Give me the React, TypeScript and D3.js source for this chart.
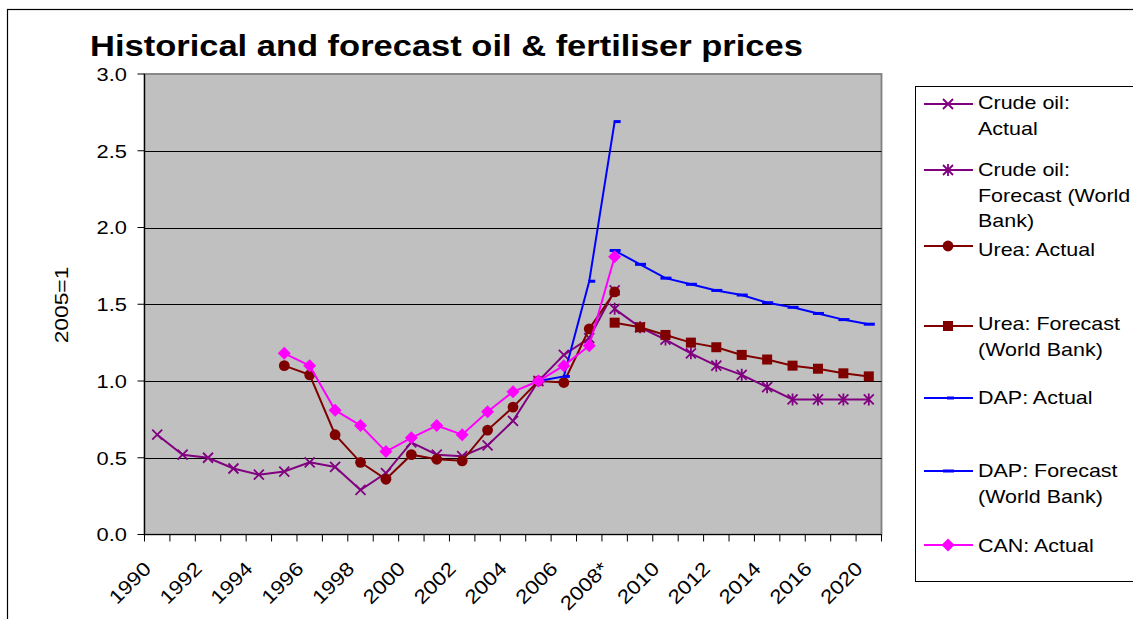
import * as d3 from "d3";

const categories = [
  "1990", "1991", "1992", "1993", "1994", "1995", "1996", "1997", "1998", "1999",
  "2000", "2001", "2002", "2003", "2004", "2005", "2006", "2007", "2008*", "2009",
  "2010", "2011", "2012", "2013", "2014", "2015", "2016", "2018", "2020",
];
// only every other category gets a label
const shownLabels = categories.filter((_, i) => i % 2 === 0);

const yTicks = [0, 0.5, 1, 1.5, 2, 2.5, 3];

const N = null;
const crudeActual = [0.65, 0.52, 0.5, 0.43, 0.39, 0.41, 0.47, 0.44, 0.29, 0.4, 0.6, 0.52, 0.51, 0.58, 0.74, 1.0, 1.17, 1.28, 1.59, N, N, N, N, N, N, N, N, N, N];
const crudeForecast = [N, N, N, N, N, N, N, N, N, N, N, N, N, N, N, N, N, N, 1.47, 1.35, 1.27, 1.18, 1.1, 1.04, 0.96, 0.88, 0.88, 0.88, 0.88];
const ureaActual = [N, N, N, N, N, 1.1, 1.04, 0.65, 0.47, 0.36, 0.52, 0.49, 0.48, 0.68, 0.83, 1.0, 0.99, 1.34, 1.58, N, N, N, N, N, N, N, N, N, N];
const ureaForecast = [N, N, N, N, N, N, N, N, N, N, N, N, N, N, N, N, N, N, 1.38, 1.35, 1.3, 1.25, 1.22, 1.17, 1.14, 1.1, 1.08, 1.05, 1.03];
const dapActual = [N, N, N, N, N, N, N, N, N, N, N, N, N, N, N, 1.0, 1.03, 1.65, 2.69, N, N, N, N, N, N, N, N, N, N];
const dapForecast = [N, N, N, N, N, N, N, N, N, N, N, N, N, N, N, N, N, N, 1.85, 1.76, 1.67, 1.63, 1.59, 1.56, 1.51, 1.48, 1.44, 1.4, 1.37];
const canActual = [N, N, N, N, N, 1.18, 1.1, 0.81, 0.71, 0.54, 0.63, 0.71, 0.65, 0.8, 0.93, 1.0, 1.1, 1.23, 1.81, N, N, N, N, N, N, N, N, N, N];

const series = [
  { label: ["Crude oil:", "Actual"], values: crudeActual, color: "#800080", marker: "x", lineY: 104 },
  { label: ["Crude oil:", "Forecast (World", "Bank)"], values: crudeForecast, color: "#800080", marker: "star", lineY: 170 },
  { label: ["Urea: Actual"], values: ureaActual, color: "#800000", marker: "circle", lineY: 246 },
  { label: ["Urea: Forecast", "(World Bank)"], values: ureaForecast, color: "#800000", marker: "square", lineY: 326 },
  { label: ["DAP: Actual"], values: dapActual, color: "#0000FF", marker: "dashS", lineY: 398 },
  { label: ["DAP: Forecast", "(World Bank)"], values: dapForecast, color: "#0000FF", marker: "dashL", lineY: 471 },
  { label: ["CAN: Actual"], values: canActual, color: "#FF00FF", marker: "diamond", lineY: 545 },
];
const legendTextY = [102, 169, 249, 323, 397, 470, 545];

const FONT = "'Liberation Sans', Arial, sans-serif";

function Marker({ type, x, y, color }: { type: string; x: number; y: number; color: string }) {
  const s = 5;
  switch (type) {
    case "x":
      return <path d={`M${x - s},${y - s}L${x + s},${y + s}M${x - s},${y + s}L${x + s},${y - s}`} stroke={color} strokeWidth={1.8} />;
    case "star":
      return <path d={`M${x - s},${y - s}L${x + s},${y + s}M${x - s},${y + s}L${x + s},${y - s}M${x},${y - s - 1}L${x},${y + s + 1}`} stroke={color} strokeWidth={1.8} />;
    case "circle":
      return <circle cx={x} cy={y} r={5.4} fill={color} />;
    case "square":
      return <rect x={x - 5} y={y - 5} width={10} height={10} fill={color} />;
    case "dashS":
      return <rect x={x - 1} y={y - 1.5} width={7} height={3} fill={color} />;
    case "dashL":
      return <rect x={x - 5} y={y - 1.5} width={11} height={3} fill={color} />;
    case "diamond":
      return <path d={`M${x},${y - 6.5}L${x + 6.5},${y}L${x},${y + 6.5}L${x - 6.5},${y}Z`} fill={color} />;
  }
  return null;
}

export default function App() {
  const width = 1133, height = 619;
  const left = 144.5, right = 881.5, top = 74, bottom = 534.5;

  const x = d3.scaleBand<string>().domain(categories).range([left, right]).padding(0);
  const bw = x.bandwidth();
  const cx = (i: number) => (x(categories[i]) as number) + bw / 2;
  const y = d3.scaleLinear().domain([0, 3]).range([bottom, top]);

  const line = d3.line<number | null>()
    .defined(v => v != null)
    .x((_, i) => cx(i))
    .y(v => y(v as number));

  return (
    <svg width={width} height={height} style={{ position: "absolute", left: 0, top: 0, background: "#fff" }} fontFamily={FONT}>
      <rect x={7.5} y={9.5} width={1200} height={700} fill="#fff" stroke="#000" strokeWidth={1.2} />

      <text transform="translate(90,56) scale(1.15,1)" fontSize={30} fontWeight="bold" fill="#000">
        Historical and forecast oil &amp; fertiliser prices
      </text>

      {/* plot area */}
      <rect x={left} y={top} width={right - left} height={bottom - top} fill="#C0C0C0" stroke="#808080" strokeWidth={1.8} />
      {yTicks.filter(t => t > 0 && t < 3).map(t => (
        <line key={t} x1={left} x2={right} y1={Math.round(y(t)) + 0.5} y2={Math.round(y(t)) + 0.5} stroke="#000" strokeWidth={1} />
      ))}

      {/* y axis */}
      <line x1={left} x2={left} y1={top} y2={bottom} stroke="#000" strokeWidth={1.2} />
      {yTicks.map(t => (
        <g key={t}>
          <line x1={left - 7} x2={left} y1={y(t)} y2={y(t)} stroke="#000" strokeWidth={1} />
          <text transform={`translate(127,${y(t) + 6.8}) scale(1.15,1)`} textAnchor="end" fontSize={19} fill="#000">
            {d3.format(".1f")(t)}
          </text>
        </g>
      ))}
      <text transform={`translate(67.5,305) rotate(-90) scale(1.2,1)`} textAnchor="middle" fontSize={19} fill="#000">2005=1</text>

      {/* x axis */}
      <line x1={left} x2={right} y1={bottom} y2={bottom} stroke="#000" strokeWidth={1.2} />
      {d3.range(categories.length + 1).map(i => {
        const px = left + i * bw;
        return <line key={i} x1={px} x2={px} y1={bottom} y2={bottom + 7} stroke="#000" strokeWidth={1} />;
      })}
      {shownLabels.map(c => {
        const i = categories.indexOf(c);
        return (
          <text key={c} transform={`translate(${cx(i) - 5},570) rotate(-45) scale(1.15,1)`} textAnchor="end" fontSize={19.5} fill="#000">
            {c}
          </text>
        );
      })}

      {/* series */}
      {series.map((s, si) => (
        <g key={si}>
          <path d={line(s.values) || ""} fill="none" stroke={s.color} strokeWidth={2} />
          {s.values.map((v, i) => v == null ? null : <Marker key={i} type={s.marker} x={cx(i)} y={y(v)} color={s.color} />)}
        </g>
      ))}

      {/* legend */}
      <rect x={915.5} y={86.5} width={300} height={495} fill="#fff" stroke="#000" strokeWidth={1} />
      {series.map((s, si) => (
        <g key={si}>
          <line x1={924} x2={973} y1={s.lineY} y2={s.lineY} stroke={s.color} strokeWidth={2} />
          <Marker type={s.marker} x={948} y={s.lineY} color={s.color} />
          {s.label.map((t, li) => (
            <text key={li} transform={`translate(978,${legendTextY[si] + 7 + li * 25.5}) scale(1.13,1)`} fontSize={19} fill="#000">
              {t}
            </text>
          ))}
        </g>
      ))}
    </svg>
  );
}
